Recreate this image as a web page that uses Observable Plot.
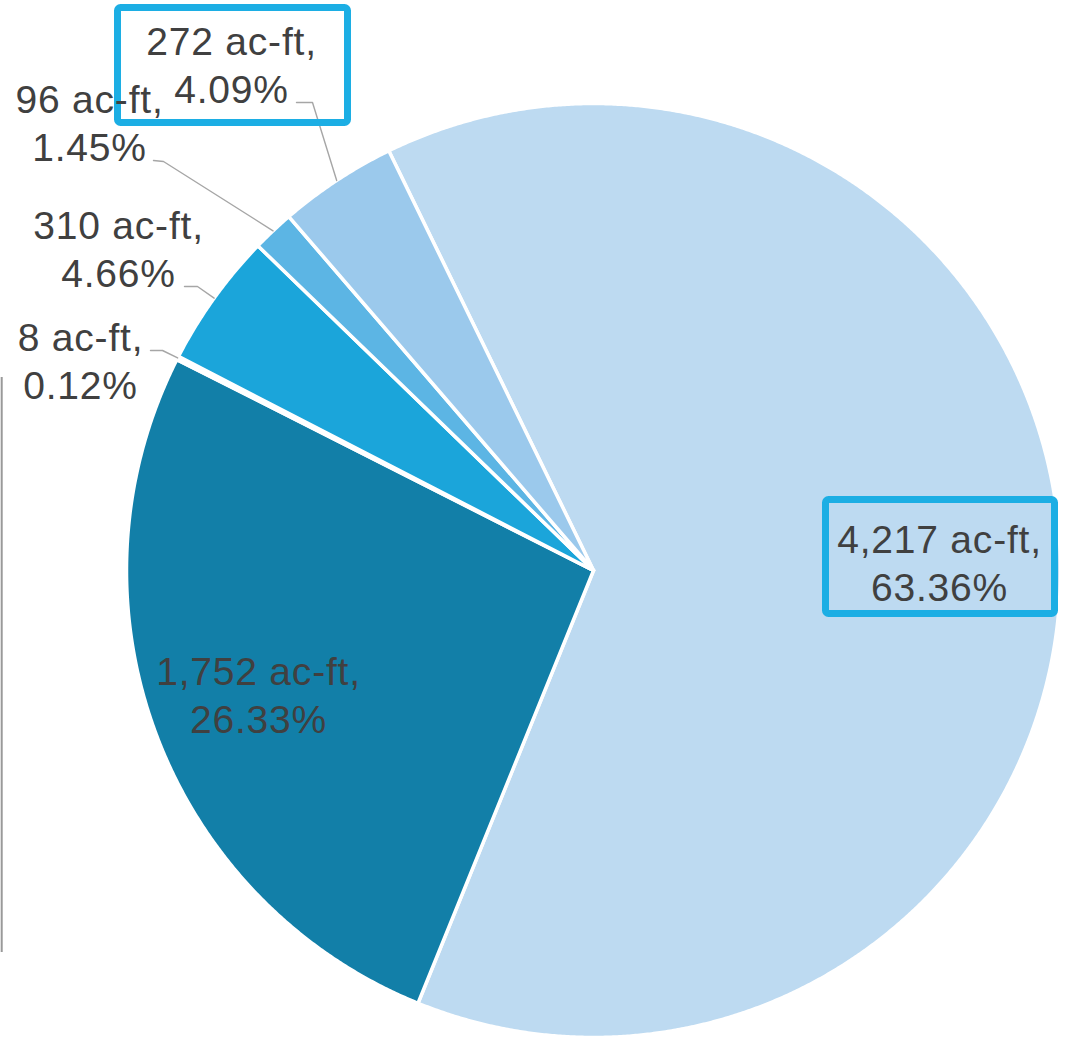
<!DOCTYPE html>
<html><head><meta charset="utf-8">
<script src="https://cdn.jsdelivr.net/npm/d3@7"></script>
<script src="https://cdn.jsdelivr.net/npm/@observablehq/plot@0.6"></script>
<style>html,body{margin:0;padding:0;background:#fff;}</style>
</head><body><div id="chart"></div>
<script>
// ---- data ----
const sliceKeys = ["s4217", "s1752", "s8", "s310", "s96", "s272"];
const acreFeet = [4217, 1752, 8, 310, 96, 272];
const percents = [63.36, 26.33, 0.12, 4.66, 1.45, 4.09];

// ---- styles / layout ----
const sliceColors = ["#BDDAF1", "#127FA8", "#0E6B8F", "#1BA5DA", "#5CB5E4", "#9BC9EC"];
const W = 1066, H = 1038, CX = 593, CY = 570, R = 467;
const START_DEG = -26;
const layout = [
  {cx: 939, base: 600, box: [825.5, 499.5, 1054.5, 613.5]},
  {cx: 258, base: 732},
  {cx: 80, base: 398, leader: [[150, 350], [162, 350]]},
  {cx: 118, base: 286, leader: [[184, 286], [197, 286]]},
  {cx: 89, base: 160, leader: [[153, 160], [163, 161]]},
  {cx: 231, base: 102, leader: [[296, 102], [312, 102]], box: [117.5, 7.5, 347.5, 122.5]}
];
const px = x => (x - CX) / R, py = y => (CY - y) / R;

const start = START_DEG * Math.PI / 180;
const arcs = d3.pie().sort(null).value(d => d).startAngle(start).endAngle(start + 2 * Math.PI)(percents);

const slicePts = [];
arcs.forEach((a, i) => {
  const key = sliceKeys[i], col = sliceColors[i];
  slicePts.push({key, col, x: 0, y: 0});
  const n = Math.max(2, Math.ceil((a.endAngle - a.startAngle) / (0.25 * Math.PI / 180)));
  for (let k = 0; k <= n; k++) {
    const t = a.startAngle + (a.endAngle - a.startAngle) * k / n;
    slicePts.push({key, col, x: Math.sin(t), y: Math.cos(t)});
  }
  slicePts.push({key, col, x: 0, y: 0});
});

const fmt = d3.format(",");
const labels = acreFeet.map((v, i) => ({
  x: px(layout[i].cx), y: py(layout[i].base),
  text: `${fmt(v)} ac-ft,\n${percents[i].toFixed(2)}%`
}));

const leaderPts = [];
arcs.forEach((a, i) => {
  const L = layout[i].leader;
  if (!L) return;
  const m = (a.startAngle + a.endAngle) / 2;
  leaderPts.push({key: sliceKeys[i], x: px(L[0][0]), y: py(L[0][1])});
  leaderPts.push({key: sliceKeys[i], x: px(L[1][0]), y: py(L[1][1])});
  leaderPts.push({key: sliceKeys[i], x: Math.sin(m), y: Math.cos(m)});
});

const boxes = layout.filter(l => l.box).map(l => ({
  x1: px(l.box[0]), y1: py(l.box[1]), x2: px(l.box[2]), y2: py(l.box[3])
}));

const frameLine = [{x: px(1.2), y1: py(377), y2: py(952)}];

const chart = Plot.plot({
  width: W, height: H, margin: 0,
  x: {domain: [-1, 1], range: [CX - R, CX + R], axis: null},
  y: {domain: [-1, 1], range: [CY + R, CY - R], axis: null},
  color: {type: "identity"},
  style: {fontFamily: "'Liberation Sans', Arial, sans-serif", letterSpacing: "0.8px", background: "white"},
  marks: [
    Plot.line(slicePts, {x: "x", y: "y", z: "key", fill: "col", stroke: "white", strokeWidth: 3.5, strokeLinejoin: "round"}),
    Plot.ruleX(frameLine, {x: "x", y1: "y1", y2: "y2", stroke: "#999999", strokeWidth: 2}),
    Plot.line(leaderPts, {x: "x", y: "y", z: "key", stroke: "#A6A6A6", strokeWidth: 1.4}),
    Plot.rect(boxes, {x1: "x1", x2: "x2", y1: "y1", y2: "y2", fill: "none", stroke: "#1CAEE4", strokeWidth: 7, rx: 3}),
    Plot.text(labels, {x: "x", y: "y", text: "text", textAnchor: "middle", lineAnchor: "bottom", lineHeight: 47.5 / 39, fontSize: 39, fill: "#404040"})
  ]
});
document.getElementById("chart").appendChild(chart);
</script>
</body></html>
